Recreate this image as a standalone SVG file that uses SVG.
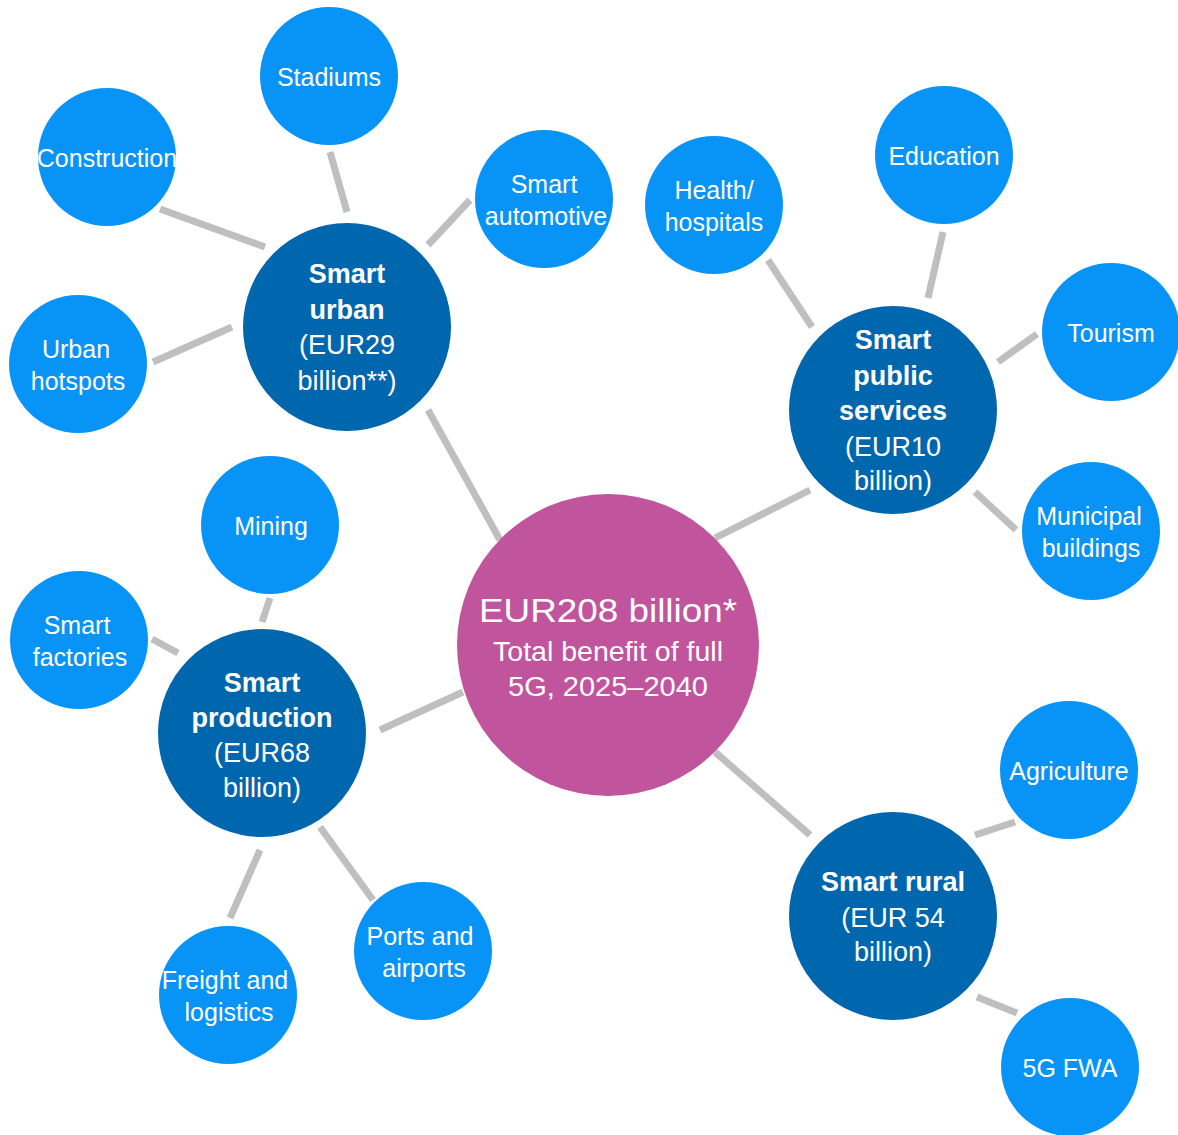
<svg xmlns="http://www.w3.org/2000/svg" width="1178" height="1135" viewBox="0 0 1178 1135">
<style>
.leaf{fill:#0894f6}
.hub{fill:#0066ae}
.core{fill:#c0559e}
.conn line{stroke:#bfbfbf;stroke-width:7;stroke-linecap:butt}
text{font-family:"Liberation Sans",Arial,sans-serif;fill:#ffffff;text-anchor:middle}
.lt{font-size:25px}
.hb{font-size:27px;font-weight:bold}
.hr{font-size:27px}
</style>
<rect width="1178" height="1135" fill="#ffffff"/>
<g id="connectors" class="conn">
<line x1="160" y1="209" x2="265" y2="247"/>
<line x1="330" y1="152" x2="347" y2="212"/>
<line x1="470" y1="200" x2="428" y2="245"/>
<line x1="153" y1="362" x2="232" y2="327"/>
<line x1="428" y1="410" x2="500" y2="540"/>
<line x1="768" y1="260" x2="812" y2="327"/>
<line x1="943" y1="232" x2="928" y2="298"/>
<line x1="998" y1="362" x2="1037" y2="334"/>
<line x1="975" y1="492" x2="1016" y2="530"/>
<line x1="715" y1="538" x2="810" y2="490"/>
<line x1="270" y1="598" x2="262" y2="622"/>
<line x1="152" y1="639" x2="178" y2="653"/>
<line x1="380" y1="730" x2="463" y2="692"/>
<line x1="260" y1="850" x2="230" y2="918"/>
<line x1="320" y1="827" x2="373" y2="900"/>
<line x1="715" y1="752" x2="810" y2="835"/>
<line x1="975" y1="835" x2="1015" y2="822"/>
<line x1="977" y1="997" x2="1017" y2="1013"/>
</g>
<g id="center">
<circle class="core" cx="608" cy="645" r="151"/>
<text x="608" y="622" style="font-size:34px" textLength="258" lengthAdjust="spacingAndGlyphs">EUR208 billion*</text>
<text x="608" y="661" style="font-size:27px" textLength="230" lengthAdjust="spacingAndGlyphs">Total benefit of full</text>
<text x="608" y="696" style="font-size:27px" textLength="200" lengthAdjust="spacingAndGlyphs">5G, 2025–2040</text>
</g>
<g id="smart-urban">
<circle class="hub" cx="347" cy="327" r="104"/>
<text class="hb" x="347" y="283">Smart</text>
<text class="hb" x="347" y="319">urban</text>
<text class="hr" x="347" y="354">(EUR29</text>
<text class="hr" x="347" y="390">billion**)</text>
</g>
<g id="smart-public-services">
<circle class="hub" cx="893" cy="410" r="104"/>
<text class="hb" x="893" y="349">Smart</text>
<text class="hb" x="893" y="385">public</text>
<text class="hb" x="893" y="420">services</text>
<text class="hr" x="893" y="456">(EUR10</text>
<text class="hr" x="893" y="490">billion)</text>
</g>
<g id="smart-production">
<circle class="hub" cx="262" cy="733" r="104"/>
<text class="hb" x="262" y="692">Smart</text>
<text class="hb" x="262" y="727">production</text>
<text class="hr" x="262" y="762">(EUR68</text>
<text class="hr" x="262" y="797">billion)</text>
</g>
<g id="smart-rural">
<circle class="hub" cx="893" cy="916" r="104"/>
<text class="hb" x="893" y="891">Smart rural</text>
<text class="hr" x="893" y="927">(EUR 54</text>
<text class="hr" x="893" y="961">billion)</text>
</g>
<g id="stadiums">
<circle class="leaf" cx="329" cy="76" r="69"/>
<text class="lt" x="329" y="86">Stadiums</text>
</g>
<g id="construction">
<circle class="leaf" cx="107" cy="157" r="69"/>
<text class="lt" x="107" y="167">Construction</text>
</g>
<g id="smart-automotive">
<circle class="leaf" cx="544" cy="199" r="69"/>
<text class="lt" x="544" y="193">Smart</text>
<text class="lt" x="546" y="225">automotive</text>
</g>
<g id="urban-hotspots">
<circle class="leaf" cx="78" cy="364" r="69"/>
<text class="lt" x="76" y="358">Urban</text>
<text class="lt" x="78" y="390">hotspots</text>
</g>
<g id="health-hospitals">
<circle class="leaf" cx="714" cy="205" r="69"/>
<text class="lt" x="714" y="199">Health/</text>
<text class="lt" x="714" y="231">hospitals</text>
</g>
<g id="education">
<circle class="leaf" cx="944" cy="155" r="69"/>
<text class="lt" x="944" y="165">Education</text>
</g>
<g id="tourism">
<circle class="leaf" cx="1111" cy="332" r="69"/>
<text class="lt" x="1111" y="342">Tourism</text>
</g>
<g id="municipal-buildings">
<circle class="leaf" cx="1091" cy="531" r="69"/>
<text class="lt" x="1089" y="525">Municipal</text>
<text class="lt" x="1091" y="557">buildings</text>
</g>
<g id="mining">
<circle class="leaf" cx="270" cy="525" r="69"/>
<text class="lt" x="271" y="535">Mining</text>
</g>
<g id="smart-factories">
<circle class="leaf" cx="79" cy="640" r="69"/>
<text class="lt" x="77" y="634">Smart</text>
<text class="lt" x="80" y="666">factories</text>
</g>
<g id="freight-logistics">
<circle class="leaf" cx="228" cy="995" r="69"/>
<text class="lt" x="225" y="989">Freight and</text>
<text class="lt" x="229" y="1021">logistics</text>
</g>
<g id="ports-airports">
<circle class="leaf" cx="423" cy="951" r="69"/>
<text class="lt" x="420" y="945">Ports and</text>
<text class="lt" x="424" y="977">airports</text>
</g>
<g id="agriculture">
<circle class="leaf" cx="1069" cy="770" r="69"/>
<text class="lt" x="1069" y="780">Agriculture</text>
</g>
<g id="fwa">
<circle class="leaf" cx="1070" cy="1067" r="69"/>
<text class="lt" x="1070" y="1077">5G FWA</text>
</g>
</svg>
